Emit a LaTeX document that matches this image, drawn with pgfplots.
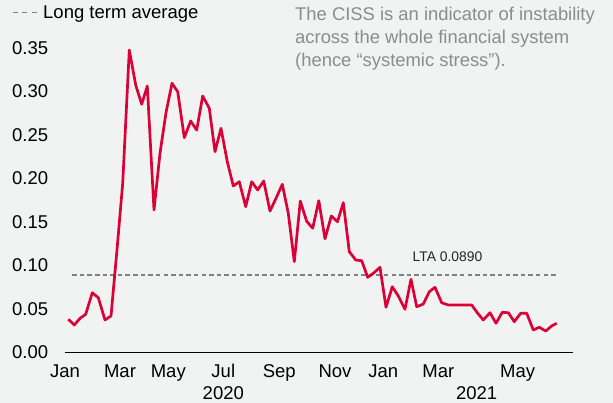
\documentclass[border=0pt]{standalone}
\usepackage{pgfplots}
\pgfplotsset{compat=1.18}
\usepackage{fontspec}
\setmainfont{Liberation Sans}
\definecolor{bg}{RGB}{240,243,242}
\definecolor{cissred}{RGB}{218,0,55}
\definecolor{ltagray}{RGB}{128,128,128}
\definecolor{notegray}{RGB}{140,140,140}
\begin{document}
\begin{tikzpicture}
\fill[bg] (-65pt,-50.5pt) rectangle (548pt,352.5pt);
\begin{axis}[
  scale only axis, width=508pt, height=313.2pt,
  at={(0pt,0pt)}, anchor=south west,
  xmin=65, xmax=573, ymin=0, ymax=0.36,
  clip=false,
  axis x line*=bottom, axis y line*=left,
  x axis line style={-, black, line width=1pt},
  y axis line style={draw=none},
  major tick length=0pt,
  xtick={65,120,168.3,223.3,279.3,335,383.3,438.3,517.7},
  xticklabels={Jan,Mar,May,Jul,Sep,Nov,Jan,Mar,May},
  ytick={0,0.05,0.10,0.15,0.20,0.25,0.30,0.35},
  yticklabels={0.00,0.05,0.10,0.15,0.20,0.25,0.30,0.35},
  ticklabel style={font=\fontsize{18.5}{20}\selectfont, text=black},
  xticklabel style={anchor=base, inner sep=0pt, yshift=-24.8pt},
  yticklabel style={anchor=east, inner sep=0pt, xshift=-16.7pt},
  legend style={at={(-0.1049,1.108)}, anchor=north west, draw=none, fill=none,
    inner sep=0pt, font=\fontsize{18.5}{20}\selectfont,
    nodes={inner sep=0pt, text=black}, column sep=5pt},
  legend image code/.code={\draw[#1, dash pattern=on 5pt off 4.5pt] (0pt,0pt) -- (25pt,0pt);},
  legend cell align=left,
]
\addplot[ltagray, line width=1.3pt, dash pattern=on 4.5pt off 3.1pt] coordinates {(72.3,0.089) (558,0.089)};
\addlegendentry{Long term average}
\addplot[cissred, line width=2.7pt, line join=round, forget plot] coordinates {
(68.3,0.0382) (74.3,0.0316) (80,0.0393) (85.7,0.0439) (92.3,0.0687) (98.3,0.0630)
(105,0.0374) (111,0.0420) (117,0.118) (122.7,0.1945) (129.3,0.3477) (135.7,0.3075)
(141.7,0.2853) (147.3,0.3063) (154,0.1638) (160,0.2290) (166,0.2756) (172,0.3094)
(177.7,0.2998) (184.3,0.2469) (190.7,0.2661) (196.7,0.2557) (202.7,0.2948) (209.3,0.2807)
(215,0.2308) (221,0.2577) (227.3,0.2193) (233.3,0.1914) (239.3,0.1963) (245.7,0.1676)
(251.7,0.1963) (257.7,0.1868) (263.7,0.1971) (270,0.1626) (276,0.1772) (282.3,0.1933)
(288.3,0.1600) (294.3,0.1044) (300.3,0.1741) (306.7,0.1508) (312.7,0.1428) (318.8,0.1745)
(325,0.1307) (331.3,0.1569) (337.5,0.1503) (343.3,0.1722) (349.3,0.1159) (355.7,0.1063)
(361.7,0.1055) (367.7,0.0864) (373.3,0.0910) (380,0.0979) (386,0.0520) (392.3,0.0756)
(398.3,0.0649) (405,0.0497) (411,0.0841) (416.7,0.0526) (423.3,0.0557) (429.3,0.0699)
(435,0.0749) (441.7,0.0572) (448.3,0.0546) (454.3,0.0546) (460.3,0.0546) (466.3,0.0546)
(471.7,0.0546) (477.7,0.0451) (483.3,0.0374) (490,0.0457) (496,0.0336) (502.3,0.0462)
(508.3,0.0457) (514.3,0.0354) (520.7,0.0451) (526.7,0.0451) (533.3,0.0259) (539.3,0.0290)
(545.7,0.0247) (551.7,0.0305) (556.7,0.0336)
};
\node[anchor=base, inner sep=0pt, font=\fontsize{13.9}{15}\selectfont, text=black!85] at (axis cs:447.5,0.1044) {LTA 0.0890};
\node[anchor=base, inner sep=0pt, font=\fontsize{18.5}{20}\selectfont] at (axis cs:223.3,-0.0535) {2020};
\node[anchor=base, inner sep=0pt, font=\fontsize{18.5}{20}\selectfont] at (axis cs:476.7,-0.0535) {2021};
\node[anchor=base west, inner sep=0pt, font=\fontsize{18.4}{20}\selectfont, text=notegray] at (axis cs:295,0.3814) {The CISS is an indicator of instability};
\node[anchor=base west, inner sep=0pt, font=\fontsize{18.4}{20}\selectfont, text=notegray] at (axis cs:295,0.3553) {across the whole financial system};
\node[anchor=base west, inner sep=0pt, font=\fontsize{18.4}{20}\selectfont, text=notegray] at (axis cs:295,0.3292) {(hence “systemic stress”).};
\end{axis}
\pgfresetboundingbox
\useasboundingbox (-65pt,-50.5pt) rectangle (548pt,352.5pt);
\end{tikzpicture}
\end{document}
